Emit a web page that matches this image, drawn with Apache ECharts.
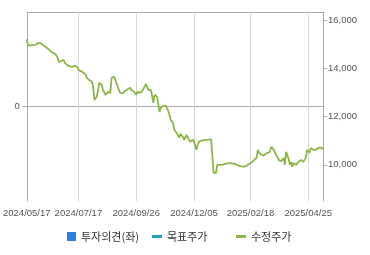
<!DOCTYPE html>
<html><head><meta charset="utf-8">
<script src="https://cdn.jsdelivr.net/npm/echarts@6/dist/echarts.min.js"></script>
<style>html,body{margin:0;padding:0;background:#fff}#c{width:370px;height:255px}</style>
</head><body><div id="c"></div>
<script>
const dates = [
'2024/05/17','2024/05/20','2024/05/21','2024/05/22','2024/05/23','2024/05/24','2024/05/27','2024/05/28','2024/05/29','2024/05/30','2024/05/31',
'2024/06/03','2024/06/04','2024/06/05','2024/06/07','2024/06/10','2024/06/11','2024/06/12','2024/06/13','2024/06/14','2024/06/17','2024/06/18','2024/06/19','2024/06/20','2024/06/21','2024/06/24','2024/06/25','2024/06/26','2024/06/27','2024/06/28',
'2024/07/01','2024/07/02','2024/07/03','2024/07/04','2024/07/05','2024/07/08','2024/07/09','2024/07/10','2024/07/11','2024/07/12','2024/07/15','2024/07/16','2024/07/17','2024/07/18','2024/07/19','2024/07/22','2024/07/23','2024/07/24','2024/07/25','2024/07/26','2024/07/29','2024/07/30','2024/07/31',
'2024/08/01','2024/08/02','2024/08/05','2024/08/06','2024/08/07','2024/08/08','2024/08/09','2024/08/12','2024/08/13','2024/08/14','2024/08/16','2024/08/19','2024/08/20','2024/08/21','2024/08/22','2024/08/23','2024/08/26','2024/08/27','2024/08/28','2024/08/29','2024/08/30',
'2024/09/02','2024/09/03','2024/09/04','2024/09/05','2024/09/06','2024/09/09','2024/09/10','2024/09/11','2024/09/12','2024/09/13','2024/09/19','2024/09/20','2024/09/23','2024/09/24','2024/09/25','2024/09/26','2024/09/27','2024/09/30',
'2024/10/02','2024/10/04','2024/10/07','2024/10/08','2024/10/10','2024/10/11','2024/10/14','2024/10/15','2024/10/16','2024/10/17','2024/10/18','2024/10/21','2024/10/22','2024/10/23','2024/10/24','2024/10/25','2024/10/28','2024/10/29','2024/10/30','2024/10/31',
'2024/11/01','2024/11/04','2024/11/05','2024/11/06','2024/11/07','2024/11/08','2024/11/11','2024/11/12','2024/11/13','2024/11/14','2024/11/15','2024/11/18','2024/11/19','2024/11/20','2024/11/21','2024/11/22','2024/11/25','2024/11/26','2024/11/27','2024/11/28','2024/11/29',
'2024/12/02','2024/12/03','2024/12/04','2024/12/05','2024/12/06','2024/12/09','2024/12/10','2024/12/11','2024/12/12','2024/12/13','2024/12/16','2024/12/17','2024/12/18','2024/12/19','2024/12/20','2024/12/23','2024/12/24','2024/12/26','2024/12/27','2024/12/30',
'2025/01/02','2025/01/03','2025/01/06','2025/01/07','2025/01/08','2025/01/09','2025/01/10','2025/01/13','2025/01/14','2025/01/15','2025/01/16','2025/01/17','2025/01/20','2025/01/21','2025/01/22','2025/01/23','2025/01/24','2025/01/31',
'2025/02/03','2025/02/04','2025/02/05','2025/02/06','2025/02/07','2025/02/10','2025/02/11','2025/02/12','2025/02/13','2025/02/14','2025/02/17','2025/02/18','2025/02/19','2025/02/20','2025/02/21','2025/02/24','2025/02/25','2025/02/26','2025/02/27','2025/02/28',
'2025/03/04','2025/03/05','2025/03/06','2025/03/07','2025/03/10','2025/03/11','2025/03/12','2025/03/13','2025/03/14','2025/03/17','2025/03/18','2025/03/19','2025/03/20','2025/03/21','2025/03/24','2025/03/25','2025/03/26','2025/03/27','2025/03/28','2025/03/31',
'2025/04/01','2025/04/02','2025/04/03','2025/04/04','2025/04/07','2025/04/08','2025/04/09','2025/04/10','2025/04/11','2025/04/14','2025/04/15','2025/04/16','2025/04/17','2025/04/18','2025/04/21','2025/04/22','2025/04/23','2025/04/24','2025/04/25','2025/04/28','2025/04/29','2025/04/30',
'2025/05/02','2025/05/07','2025/05/08','2025/05/09','2025/05/12','2025/05/13','2025/05/14','2025/05/15','2025/05/16'
];
const adjPrice = [
15200,14950,14930,14950,14920,14960,14940,14970,14990,15030,
15060,15050,15010,14970,14940,14900,14870,14820,14760,14720,
14680,14640,14620,14600,14590,14450,14260,14280,14300,14320,
14350,14220,14180,14130,14100,14080,14070,14060,14060,14100,
14140,14050,13930,13900,13880,13850,13820,13780,13730,13600,
13520,13500,13470,13440,13230,12690,12750,12820,13100,13400,
13350,13310,13100,13020,12900,12950,13020,13000,12980,13600,
13650,13640,13520,13380,13230,13100,12980,12900,12960,13020,
13060,13100,13130,13160,13190,13100,13080,13040,13020,12900,
13020,13000,12980,13020,13060,13100,13250,13350,13190,13100,
13020,13100,12850,12570,12900,12860,12820,12500,12190,12360,
12400,12440,12480,12450,12400,12250,12070,11860,11800,11740,
11450,11400,11320,11320,11120,11280,11220,11160,11035,11100,
11240,11120,11040,10950,11000,11035,10950,10800,10620,10830,
10950,10980,11000,11035,11020,11040,11035,11030,11040,11035,
11050,11080,9670,9690,9670,10000,9980,10000,10010,10000,
10020,10040,10050,10060,10080,10070,10080,10060,10050,10040,
10020,10000,9980,9950,9920,9930,9910,9920,9940,9960,
10000,10040,10080,10100,10120,10200,10250,10290,10620,10500,
10450,10410,10410,10390,10370,10480,10540,10500,10600,10750,
10700,10620,10500,10400,10330,10200,10180,10150,10120,10290,
10000,10540,10500,10250,10000,10120,9920,10080,10040,10000,
10080,10120,10150,10200,10180,10120,10200,10290,10620,10560,
10500,10700,10680,10620,10640,10620,10660,10680,10700,10720,
10690,10660
];
const opinion = [];
const targetPrice = [];
const xTickDates = ['2024/05/17','2024/07/17','2024/09/26','2024/12/05','2025/02/18','2025/04/25'];
const rightTicks = [10000,12000,14000,16000];
const leftTicks = [0];
const seriesNames = ['투자의견(좌)','목표주가','수정주가'];

const chart = echarts.init(document.getElementById('c'), null, {renderer:'canvas'});
const pick = (i, v) => xTickDates.includes(v) || xTickDates.includes(dates[i]);
const lblFont = {fontFamily:'Liberation Sans', fontSize:9.5, color:'#555'};
const legFont = {fontFamily:'Noto Sans CJK KR', fontSize:11, color:'#333'};
const barIcon = 'rect';
const lineIcon = 'path://M0,0 L10,0 L10,3 L0,3 Z';
chart.setOption({
  animation:false,
  grid:{left:26, right:47, top:12, bottom:54, containLabel:false},
  legend:[
    {left:62, top:226, itemWidth:9, itemHeight:9, textStyle:legFont, selectedMode:false,
     data:[{name:seriesNames[0], icon:barIcon}]},
    {left:147, top:226, itemWidth:10, itemHeight:3, textStyle:legFont, selectedMode:false,
     data:[{name:seriesNames[1], icon:lineIcon, itemStyle:{color:'#1fa3b6'}}]},
    {left:231, top:226, itemWidth:10, itemHeight:3, textStyle:legFont, selectedMode:false,
     data:[{name:seriesNames[2], icon:lineIcon, itemStyle:{color:'#8db548'}}]}
  ],
  xAxis:[
    {type:'category', data:dates, boundaryGap:false, z:3,
     axisLine:{lineStyle:{color:'#aaa', width:1}},
     axisTick:{show:false},
     axisLabel:Object.assign({interval:pick, margin:7, hideOverlap:false, showMinLabel:true}, lblFont),
     splitLine:{show:false}},
    {type:'category', data:dates, position:'top', boundaryGap:false, z:3,
     axisLine:{lineStyle:{color:'#aaa', width:1}},
     axisTick:{show:false}, axisLabel:{show:false}, splitLine:{show:false}}
  ],
  yAxis:[
    {type:'value', min:-1, max:1, interval:1, position:'left', z:1,
     axisLine:{show:true, lineStyle:{color:'#aaa'}},
     axisTick:{show:true, length:4, lineStyle:{color:'#aaa'}, customValues:leftTicks},
     axisLabel:Object.assign({customValues:leftTicks, margin:7}, lblFont),
     splitLine:{show:true, lineStyle:{color:'#e6e6e6'}}},
    {type:'value', min:8500, max:16330, position:'right', z:3,
     axisLine:{show:true, lineStyle:{color:'#aaa'}},
     axisTick:{show:true, length:4, lineStyle:{color:'#aaa'}, customValues:rightTicks},
     axisLabel:Object.assign({customValues:rightTicks, margin:5,
       formatter:v=>Number(v).toLocaleString('en-US')}, lblFont),
     splitLine:{show:false}}
  ],
  series:[
    {name:seriesNames[0], type:'bar', yAxisIndex:0, data:opinion, itemStyle:{color:'#2b7de1'}},
    {name:seriesNames[1], type:'line', yAxisIndex:1, data:targetPrice, symbol:'none',
     lineStyle:{color:'#1fa3b6', width:2}, itemStyle:{color:'#1fa3b6'}},
    {name:seriesNames[2], type:'line', yAxisIndex:1, data:adjPrice, symbol:'none', z:6,
     lineStyle:{color:'#8db548', width:1.8}, itemStyle:{color:'#8db548'},
     markLine:{silent:true, symbol:['none','none'], label:{show:false},
       lineStyle:{color:'#d6d6d6', width:1, type:'solid'},
       data:xTickDates.slice(1).map(d=>({xAxis:d}))}}
  ]
});
</script></body></html>
